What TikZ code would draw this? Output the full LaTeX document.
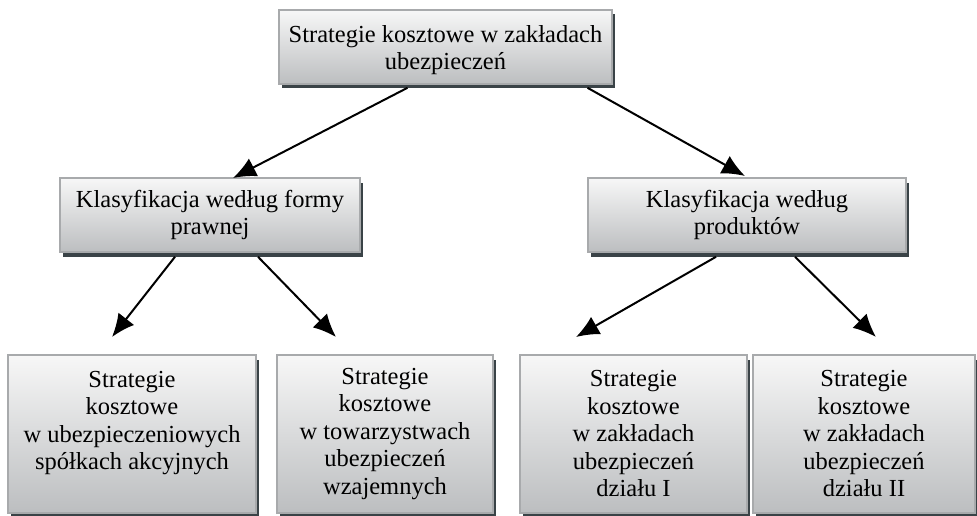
\documentclass[tikz,border=0pt]{standalone}
\usepackage{fontspec}
\setmainfont{Liberation Serif}
\usetikzlibrary{arrows.meta,shadows}
\definecolor{boxtop}{HTML}{F7F7F7}
\definecolor{boxbot}{HTML}{BCBEC0}
\definecolor{boxline}{HTML}{A8AAAC}
\definecolor{shadowc}{HTML}{3A4347}
\tikzset{
  box/.style={draw=boxline, line width=1.6pt, top color=boxtop, bottom color=boxbot,
    align=center, inner sep=0pt, font=\fontsize{24.5}{27.5}\selectfont,
    drop shadow={shadow xshift=3pt, shadow yshift=-4.5pt, fill=shadowc, opacity=1}},
  arr/.style={line width=2pt, -{Latex[length=23pt,width=20pt]}}
}
\begin{document}
\begin{tikzpicture}[x=1pt,y=-1pt]
\useasboundingbox (0,0) rectangle (977,516);
\node[box, minimum width=333pt, minimum height=74pt] (top) at (445.5,47)
  {\rule{0pt}{23pt}Strategie kosztowe w zakładach\\ubezpieczeń};
\node[box, minimum width=300pt, minimum height=74pt] (lm) at (210,215)
  {Klasyfikacja według formy\\prawnej};
\node[box, minimum width=318pt, minimum height=74pt] (rm) at (747,215)
  {Klasyfikacja według\\produktów};
\node[box, minimum width=248pt, minimum height=158pt] (b1) at (132,434)
  {Strategie\\kosztowe\\w ubezpieczeniowych\\spółkach akcyjnych\\\mbox{}};
\node[box, minimum width=216pt, minimum height=158pt] (b2) at (385,434)
  {Strategie\\kosztowe\\w towarzystwach\\ubezpieczeń\\wzajemnych};
\node[box, minimum width=227pt, minimum height=158pt] (b3) at (633.5,434)
  {Strategie\\kosztowe\\w zakładach\\ubezpieczeń\\działu I};
\node[box, minimum width=222pt, minimum height=158pt] (b4) at (864,434)
  {Strategie\\kosztowe\\w zakładach\\ubezpieczeń\\działu II};
\coordinate (t1) at (233,178);
\coordinate (t2) at (745,176);
\coordinate (t3) at (112,337);
\coordinate (t4) at (336,337);
\coordinate (t5) at (576,337);
\coordinate (t6) at (876,337);
\draw[arr] ([xshift=-38pt,yshift=-3pt]top.south) -- (t1);
\draw[arr] ([xshift=142pt,yshift=-3pt]top.south) -- (t2);
\draw[arr] ([xshift=-35pt,yshift=-4pt]lm.south) -- (t3);
\draw[arr] ([xshift=48pt,yshift=-4pt]lm.south) -- (t4);
\draw[arr] ([xshift=-31pt,yshift=-4pt]rm.south) -- (t5);
\draw[arr] ([xshift=48pt,yshift=-4pt]rm.south) -- (t6);
\end{tikzpicture}
\end{document}
